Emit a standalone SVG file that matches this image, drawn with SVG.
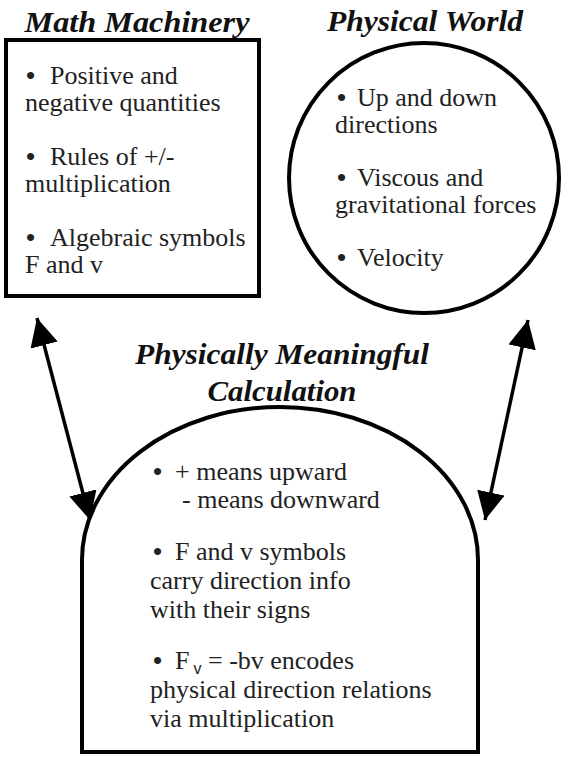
<svg xmlns="http://www.w3.org/2000/svg" width="563" height="757" viewBox="0 0 563 757">
<style>
.body{font-size:26px;fill:#222}
.b{font-weight:bold}
.title{font-weight:bold;font-style:italic;font-size:29px;fill:#111;text-anchor:middle}
.shape{fill:#fff;stroke:#000;stroke-width:4}
.conn{stroke:#000;stroke-width:3.5;fill:none}
.sub{font-family:'Liberation Sans',Arial,sans-serif;font-size:16px}
</style>
<defs>
<marker id="ah" markerUnits="userSpaceOnUse" markerWidth="30" markerHeight="28" viewBox="0 0 30 28" refX="28" refY="14" orient="auto-start-reverse">
<path d="M0,0 L28,14 L0,28 Z" fill="#000"/>
</marker>
</defs>
<rect width="563" height="757" fill="#fff"/>
<g id="connectors">
<line class="conn" x1="37" y1="318" x2="90" y2="520" marker-start="url(#ah)" marker-end="url(#ah)"/>
<line class="conn" x1="528" y1="320" x2="485" y2="520" marker-start="url(#ah)" marker-end="url(#ah)"/>
</g>
<g id="math-machinery" font-family="Liberation Serif, Times New Roman, serif">
<text class="title" x="137" y="32" textLength="225" lengthAdjust="spacingAndGlyphs">Math Machinery</text>
<rect class="shape" x="6" y="40" width="253" height="256"/>
<text class="body" x="26" y="84"><tspan class="b">•</tspan><tspan x="50">Positive and</tspan></text>
<text class="body" x="25" y="111">negative quantities</text>
<text class="body" x="26" y="165"><tspan class="b">•</tspan><tspan x="50">Rules of +/-</tspan></text>
<text class="body" x="25" y="192">multiplication</text>
<text class="body" x="26" y="246"><tspan class="b">•</tspan><tspan x="50">Algebraic symbols</tspan></text>
<text class="body" x="25" y="273">F and v</text>
</g>
<g id="physical-world" font-family="Liberation Serif, Times New Roman, serif">
<text class="title" x="425" y="31" textLength="196" lengthAdjust="spacingAndGlyphs">Physical World</text>
<circle class="shape" cx="424" cy="178" r="135"/>
<text class="body" x="337" y="106"><tspan class="b">•</tspan><tspan x="357">Up and down</tspan></text>
<text class="body" x="335" y="133">directions</text>
<text class="body" x="337" y="186"><tspan class="b">•</tspan><tspan x="357">Viscous and</tspan></text>
<text class="body" x="335" y="213">gravitational forces</text>
<text class="body" x="337" y="266"><tspan class="b">•</tspan><tspan x="357">Velocity</tspan></text>
</g>
<g id="physically-meaningful-calculation" font-family="Liberation Serif, Times New Roman, serif">
<text class="title" x="282" y="364" textLength="294" lengthAdjust="spacingAndGlyphs">Physically Meaningful</text>
<text class="title" x="282" y="401" textLength="149" lengthAdjust="spacingAndGlyphs">Calculation</text>
<path class="shape" d="M82,752 L82,560 A198,153 0 0 1 478,560 L478,752 Z"/>
<text class="body" x="153" y="480"><tspan class="b">•</tspan><tspan x="175">+ means upward</tspan></text>
<text class="body" x="182" y="508">- means downward</text>
<text class="body" x="153" y="560"><tspan class="b">•</tspan><tspan x="175">F and v symbols</tspan></text>
<text class="body" x="150" y="589">carry direction info</text>
<text class="body" x="150" y="618">with their signs</text>
<text class="body" x="153" y="669"><tspan class="b">•</tspan><tspan x="175">F</tspan><tspan class="sub" dx="4" dy="5">v</tspan><tspan dy="-5"> = -bv encodes</tspan></text>
<text class="body" x="150" y="698">physical direction relations</text>
<text class="body" x="150" y="727">via multiplication</text>
</g>
</svg>
